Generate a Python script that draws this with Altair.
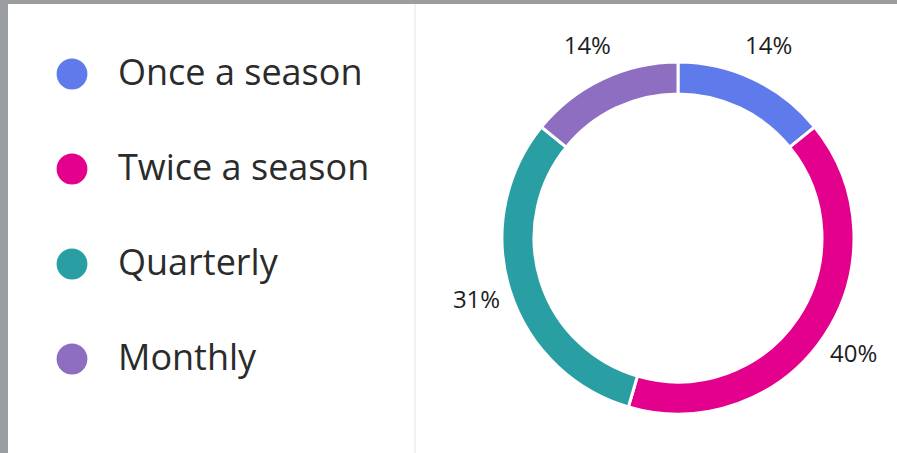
import altair as alt
import pandas as pd

categories = ["Once a season", "Twice a season", "Quarterly", "Monthly"]
percents = [14, 40, 31, 14]
labels = ["14%", "40%", "31%", "14%"]
colors = ["#5F7AEB", "#E3008C", "#2A9FA3", "#8E6EC0"]

df = pd.DataFrame({"category": categories, "pct": percents, "label": labels,
                   "order": list(range(len(categories)))})

W, H = 889, 449
cx, cy = 670, 234

base = alt.Chart(df).encode(
    theta=alt.Theta("pct:Q", stack=True),
    order=alt.Order("order:Q"),
)

arcs = base.mark_arc(outerRadius=176, innerRadius=144, stroke="white", strokeWidth=3).encode(
    x=alt.value(cx), y=alt.value(cy),
    color=alt.Color("category:N", scale=alt.Scale(domain=categories, range=colors),
                    legend=alt.Legend(orient="none", legendX=46, legendY=52, title=None,
                                      symbolType="circle", symbolSize=950, symbolStrokeWidth=0,
                                      labelFontSize=36, labelFont="Open Sans", labelColor="#2B2B2B",
                                      labelFontWeight=400,
                                      rowPadding=59, labelOffset=28, padding=0,
                                      symbolOpacity=1, labelLimit=400)),
)

text = base.mark_text(radius=211, fontSize=24, font="Open Sans", fontWeight=500,
                      color="#1E1E1E").encode(
    x=alt.value(cx), y=alt.value(cy),
    text="label:N",
)

sep = alt.Chart(df).mark_rule(color="#F0F0F0", strokeWidth=1.5).encode(
    x=alt.value(407), y=alt.value(0), y2=alt.value(H)
)

chart = alt.layer(sep, arcs, text).properties(
    width=W, height=H, padding={"left": 8, "top": 4, "right": 0, "bottom": 0},
    background="#9B9EA1",
).configure_view(fill="white", stroke=None).properties(autosize="none")

chart.save("out.html", embed_options={"renderer": "svg", "actions": False})
